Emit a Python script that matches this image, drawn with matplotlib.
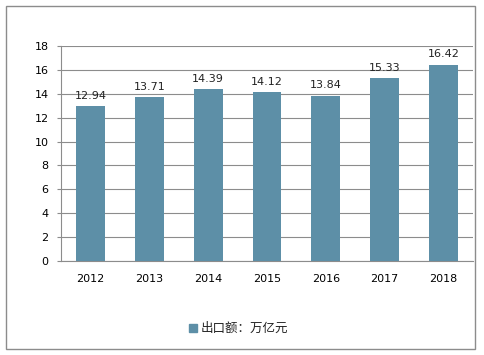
import matplotlib.pyplot as plt
from matplotlib.patches import Rectangle

plt.rcParams['font.family'] = ['Noto Sans CJK SC', 'DejaVu Sans']

years = ['2012', '2013', '2014', '2015', '2016', '2017', '2018']
exports = [12.94, 13.71, 14.39, 14.12, 13.84, 15.33, 16.42]
yticks = [0, 2, 4, 6, 8, 10, 12, 14, 16, 18]
series_name = '出口额：万亿元'

bar_color = '#5D8FA7'
grid_color = '#8C8C8C'

fig = plt.figure(figsize=(4.84, 3.55), dpi=100)
# outer chart frame
fig.patches.append(Rectangle((6 / 484, 6 / 355), 469 / 484, 343 / 355,
                             transform=fig.transFigure, fill=False,
                             edgecolor='#8C8C8C', linewidth=1.0))

ax = fig.add_axes([61 / 484, 1 - 261 / 355, 412 / 484, 215 / 355])
x = range(len(years))
bars = ax.bar(x, exports, width=0.49, color=bar_color, zorder=3)

for xi, v in zip(x, exports):
    ax.text(xi, v + 0.45, f'{v:.2f}', ha='center', va='bottom',
            fontsize=8, color='#222222', family='DejaVu Sans')

ax.set_xlim(-0.5, len(years) - 0.5)
ax.set_ylim(0, 18)
ax.set_yticks(yticks)
ax.set_xticks(list(x))
ax.set_xticklabels(years, fontsize=8, family='DejaVu Sans')
ax.set_yticklabels([str(t) for t in yticks], fontsize=8, family='DejaVu Sans')
ax.yaxis.grid(True, color=grid_color, linewidth=0.8, zorder=0)
ax.tick_params(axis='y', length=3, color=grid_color, pad=6)
ax.tick_params(axis='x', length=0, pad=9)
for side in ['top', 'right']:
    ax.spines[side].set_visible(False)
ax.spines['left'].set_color(grid_color)
ax.spines['bottom'].set_color(grid_color)

# legend
fig.patches.append(Rectangle((189 / 484, 1 - 332 / 355), 8 / 484, 8 / 355,
                             transform=fig.transFigure, color=bar_color))
fig.text(201 / 484, 1 - 328 / 355, series_name, fontsize=9, va='center',
         ha='left', color='#222222')

fig.savefig('out.png', dpi=100)
